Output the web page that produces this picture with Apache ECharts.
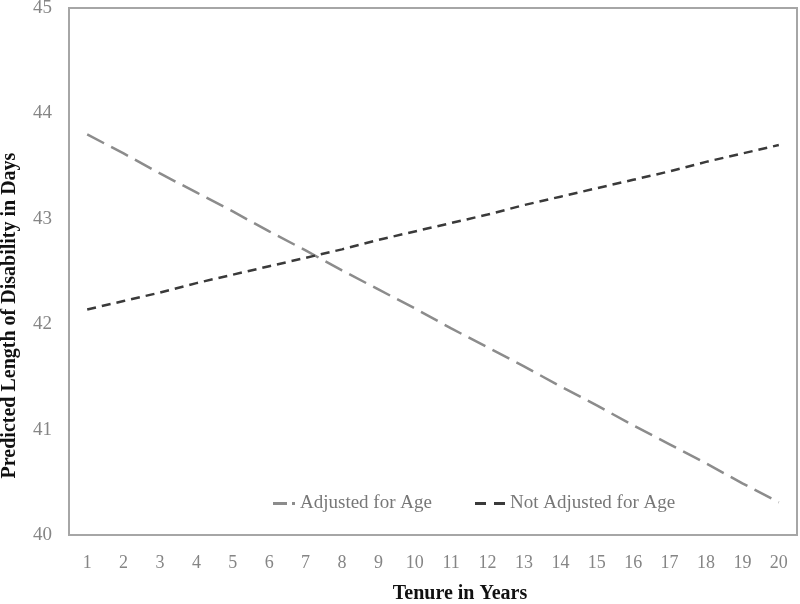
<!DOCTYPE html>
<html>
<head>
<meta charset="utf-8">
<script src="https://cdn.jsdelivr.net/npm/echarts@6/dist/echarts.min.js"></script>
<style>html,body{margin:0;padding:0;background:#fff}#c{width:800px;height:604px}</style>
</head>
<body>
<div id="c"></div>
<script>
var years = ['1','2','3','4','5','6','7','8','9','10','11','12','13','14','15','16','17','18','19','20'];
var adjustedForAge = [43.80, 43.62, 43.43, 43.25, 43.07, 42.88, 42.70, 42.51, 42.33, 42.15, 41.96, 41.78, 41.60, 41.41, 41.23, 41.04, 40.86, 40.68, 40.49, 40.31];
var notAdjustedForAge = [42.14, 42.22, 42.30, 42.39, 42.47, 42.55, 42.63, 42.71, 42.80, 42.88, 42.96, 43.04, 43.13, 43.21, 43.29, 43.37, 43.45, 43.54, 43.62, 43.70];
var seriesNames = ['Adjusted for Age', 'Not Adjusted for Age'];

var font = '"Liberation Serif", "Times New Roman", serif';
var legendText = {fontFamily: font, fontSize: 19, color: '#777'};
var chart = echarts.init(document.getElementById('c'), null, {renderer: 'canvas'});
chart.setOption({
  animation: false,
  backgroundColor: '#fff',
  grid: {left: 69, right: 3, top: 8, bottom: 69, show: true, borderColor: '#a6a6a6', borderWidth: 2, containLabel: false, outerBoundsMode: 'none'},
  legend: [
    {
      data: [{name: seriesNames[0], icon: 'path://M0,0L14,0L14,3L0,3Z M19,0L22,0L22,3L19,3Z'}],
      left: 273, top: 494, padding: 0, itemWidth: 22, itemHeight: 3,
      textStyle: legendText
    },
    {
      data: [{name: seriesNames[1], icon: 'path://M0,0L11,0L11,3L0,3Z M19,0L30,0L30,3L19,3Z'}],
      left: 475, top: 494, padding: 0, itemWidth: 30, itemHeight: 3,
      textStyle: legendText
    }
  ],
  xAxis: {
    type: 'category', data: years, boundaryGap: true,
    name: 'Tenure in Years', nameLocation: 'middle', nameGap: 49, nameMoveOverlap: false,
    nameTextStyle: {fontFamily: font, fontSize: 20, fontWeight: 'bold', color: '#111', padding: [0, 0, 0, 54]},
    axisLine: {show: true, lineStyle: {color: '#a6a6a6', width: 2}},
    axisTick: {show: false},
    axisLabel: {fontFamily: font, fontSize: 18, color: '#858585', margin: 19},
    splitLine: {show: false}
  },
  yAxis: {
    type: 'value', min: 40, max: 45, interval: 1,
    name: 'Predicted Length of Disability in Days', nameLocation: 'middle', nameGap: 49, nameMoveOverlap: false,
    nameTextStyle: {fontFamily: font, fontSize: 20, fontWeight: 'bold', color: '#111', padding: [0, 88, 0, 0]},
    axisLine: {show: true, lineStyle: {color: '#a6a6a6', width: 2}},
    axisTick: {show: false},
    axisLabel: {fontFamily: font, fontSize: 19, color: '#858585', margin: 17},
    splitLine: {show: false}
  },
  series: [
    {
      name: seriesNames[0], type: 'line', data: adjustedForAge, showSymbol: false, symbol: 'none',
      itemStyle: {color: '#8c8c8c'},
      lineStyle: {color: '#8c8c8c', width: 2.5, type: [19, 8]}
    },
    {
      name: seriesNames[1], type: 'line', data: notAdjustedForAge, showSymbol: false, symbol: 'none',
      itemStyle: {color: '#3a3a3a'},
      lineStyle: {color: '#3a3a3a', width: 2.5, type: [9, 6]}
    }
  ]
});
</script>
</body>
</html>
